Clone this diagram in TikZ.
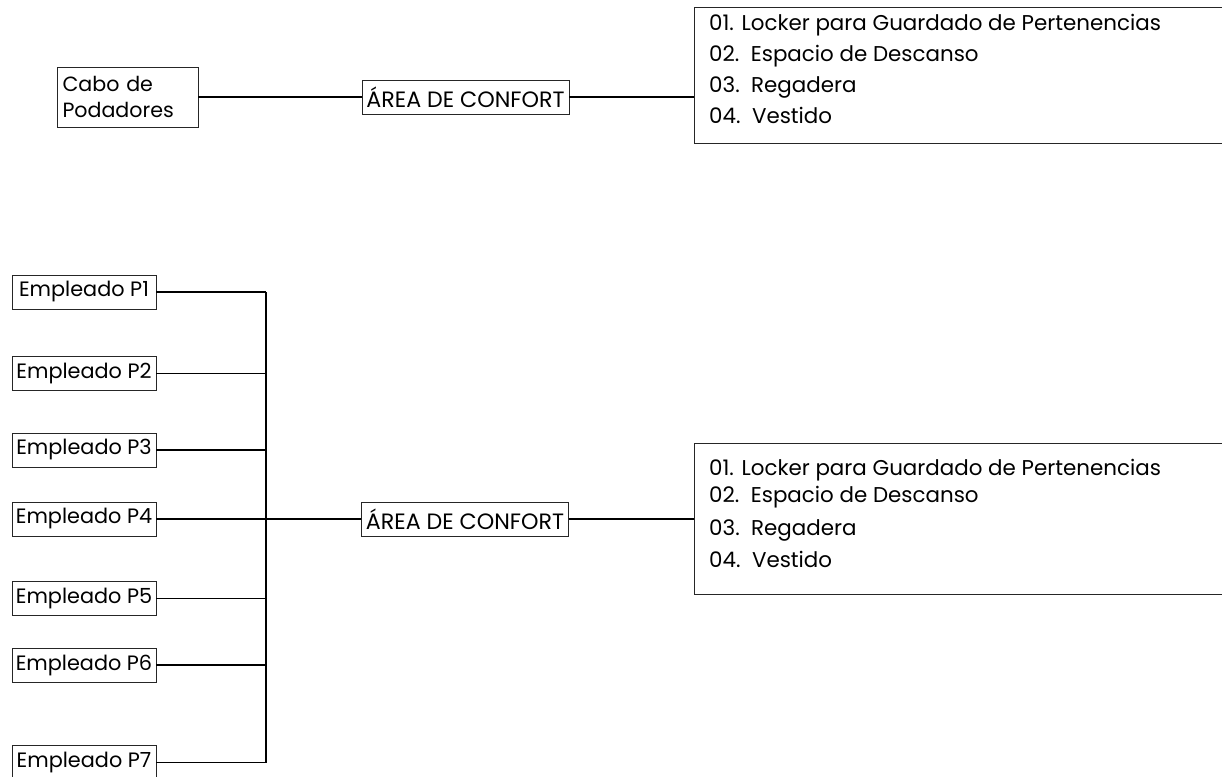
\documentclass[tikz,border=0pt]{standalone}
\usepackage{fontspec}
\setmainfont{Poppins}
\begin{document}
\begin{tikzpicture}[x=1pt,y=-1pt,
  box/.style={draw=black!85,line width=0.9pt,rectangle,inner sep=0pt},
  emp/.style={box,minimum width=144,minimum height=34,font=\fontsize{20.8}{26}\selectfont},
  area/.style={box,minimum width=207,minimum height=34,font=\fontsize{22.2}{26}\selectfont},
  listbox/.style={draw=black!85,line width=0.9pt,rectangle,inner sep=0pt,minimum width=600,anchor=north west},
  item/.style={anchor=base west,inner sep=0pt,font=\fontsize{21.4}{24}\selectfont},
  conn/.style={draw=black,line width=1.3pt}]
\useasboundingbox (0,0) rectangle (1222,776);
\clip (0,0) rectangle (1222,776);
\fill[white] (0,0) rectangle (1222,776);

% top part
\node[box,minimum width=141,minimum height=60,text width=130,align=left,font=\fontsize{20.6}{26}\selectfont] (cabo) at (127.5,97) {Cabo de\\Podadores};
\node[area] (area1) at (465.5,97) {ÁREA DE CONFORT};
\node[listbox,minimum height=136] (list1) at (694,7) {};
\node[item] (l1a) at (709,31) {01. Locker para Guardado de Pertenencias};
\node[item] (l1b) at (709,61) {02.\ \ Espacio de Descanso};
\node[item] (l1c) at (709,92) {03.\ \ Regadera};
\node[item] (l1d) at (709,123) {04.\ \ Vestido};
\draw[conn] (cabo.east) -- (area1.west);
\draw[conn] (area1.east) -- (area1.east -| list1.west);

% bottom part
\node[emp] (e1) at (84,292) {Empleado P1};
\node[emp] (e2) at (84,373.5) {Empleado P2};
\node[emp] (e3) at (84,450) {Empleado P3};
\node[emp] (e4) at (84,519) {Empleado P4};
\node[emp] (e5) at (84,598.5) {Empleado P5};
\node[emp] (e6) at (84,665) {Empleado P6};
\node[emp] (e7) at (84,762.5) {Empleado P7};
\coordinate (bus) at (266,0);
\node[area] (area2) at (465,519) {ÁREA DE CONFORT};
\node[listbox,minimum height=151] (list2) at (694,443) {};
\node[item] (l2a) at (709,475) {01. Locker para Guardado de Pertenencias};
\node[item] (l2b) at (709,502) {02.\ \ Espacio de Descanso};
\node[item] (l2c) at (709,535) {03.\ \ Regadera};
\node[item] (l2d) at (709,567) {04.\ \ Vestido};

\draw[conn] (e1.east -| bus) -- (e7.east -| bus);
\foreach \e in {e1,e2,e3,e5,e6,e7}{
  \draw[conn] (\e.east) -- (\e.east -| bus);
}
\draw[conn] (e4.east) -- (area2.west);
\draw[conn] (area2.east) -- (area2.east -| list2.west);
\end{tikzpicture}
\end{document}
